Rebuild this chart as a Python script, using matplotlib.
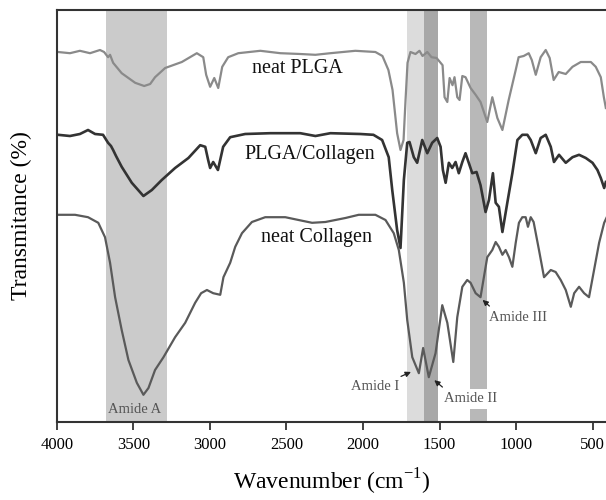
import numpy as np
import matplotlib
matplotlib.use('Agg')
import matplotlib.pyplot as plt

plt.rcParams['font.family'] = ['Liberation Serif', 'DejaVu Serif']

# FTIR spectra (wavenumber in cm-1, transmittance in arbitrary units)
plga_wn = [3993, 3915, 3850, 3784, 3719, 3692, 3666, 3653, 3633, 3577, 3489, 3430, 3391, 3359, 3293,
           3184, 3086, 3044, 3025, 2999, 2972, 2946, 2920, 2881, 2815, 2671, 2540, 2410, 2311, 2213,
           2050, 1919, 1873, 1834, 1807, 1777, 1755, 1735, 1722, 1709, 1690, 1657, 1631, 1611, 1580,
           1552, 1519, 1493, 1480, 1467, 1449, 1434, 1415, 1402, 1384, 1369, 1351, 1330, 1297, 1264,
           1232, 1188, 1155, 1122, 1089, 1048, 1002, 983, 950, 917, 897, 871, 839, 806, 780,
           754, 721, 675, 631, 577, 511, 479, 446, 426, 413]
plga_t = [92.5, 92.2, 92.8, 92.2, 93.0, 92.5, 91.2, 91.8, 89.8, 87.2, 84.8, 84.0, 84.5, 86.2, 88.5,
          90.0, 92.2, 91.2, 86.8, 83.8, 86.0, 83.5, 88.8, 91.2, 92.2, 92.8, 92.2, 92.0, 91.8, 92.2,
          92.8, 92.5, 91.5, 88.0, 83.0, 72.2, 68.0, 70.5, 80.5, 89.8, 92.5, 92.0, 92.8, 91.5, 92.5,
          91.2, 91.0, 89.8, 89.2, 81.2, 80.0, 86.0, 84.2, 86.2, 81.2, 80.5, 86.5, 86.2, 83.5, 81.8,
          80.0, 75.0, 81.2, 76.0, 73.0, 80.5, 88.0, 91.2, 91.5, 92.2, 90.5, 86.8, 91.2, 93.0, 91.0,
          85.5, 87.5, 87.0, 88.8, 90.0, 90.0, 88.8, 86.2, 81.2, 78.5]

blend_wn = [3993, 3915, 3850, 3797, 3751, 3699, 3666, 3647, 3633, 3614, 3577, 3511, 3435, 3380, 3315,
            3228, 3141, 3064, 3031, 3012, 2999, 2979, 2948, 2914, 2868, 2770, 2606, 2410, 2311, 2213,
            2017, 1932, 1875, 1832, 1809, 1777, 1755, 1733, 1711, 1696, 1668, 1646, 1613, 1580, 1548,
            1515, 1493, 1478, 1460, 1439, 1417, 1395, 1374, 1351, 1330, 1286, 1258, 1232, 1199, 1177,
            1151, 1133, 1112, 1089, 1057, 1024, 991, 959, 926, 904, 871, 839, 806, 773, 752,
            719, 675, 631, 588, 544, 500, 468, 446, 424, 413]
blend_t = [71.8, 71.5, 72.0, 73.0, 72.0, 71.8, 69.8, 69.0, 68.0, 66.5, 63.8, 59.8, 56.5, 58.0, 60.5,
           63.5, 66.0, 69.2, 68.8, 65.5, 63.5, 65.0, 63.0, 68.8, 71.2, 72.0, 72.2, 72.2, 71.5, 72.2,
           72.0, 71.8, 70.5, 66.2, 58.0, 48.0, 43.5, 60.5, 69.8, 70.0, 66.2, 64.8, 70.5, 67.2, 69.8,
           71.0, 68.8, 63.0, 59.8, 64.8, 63.5, 65.0, 62.2, 65.0, 67.2, 62.2, 62.5, 59.2, 52.5, 55.5,
           62.2, 54.8, 53.8, 47.5, 54.8, 62.2, 70.5, 71.8, 71.8, 70.5, 67.2, 71.0, 71.8, 68.8, 65.0,
           66.8, 64.8, 66.2, 66.8, 66.0, 64.8, 63.0, 61.0, 58.5, 60.0]

coll_wn = [3993, 3882, 3797, 3730, 3686, 3653, 3620, 3577, 3533, 3478, 3435, 3402, 3359, 3304, 3228,
           3162, 3097, 3058, 3020, 2979, 2933, 2912, 2868, 2835, 2791, 2726, 2639, 2508, 2421, 2333,
           2246, 2115, 2028, 1919, 1853, 1799, 1766, 1733, 1711, 1678, 1635, 1607, 1570, 1526, 1482,
           1449, 1410, 1384, 1351, 1319, 1297, 1264, 1232, 1210, 1188, 1155, 1133, 1112, 1089, 1068,
           1046, 1024, 1002, 981, 959, 937, 922, 904, 885, 850, 817, 773, 741, 708, 675,
           642, 620, 588, 555, 523, 490, 457, 424, 407]
coll_t = [51.8, 51.8, 51.2, 49.8, 46.2, 39.8, 31.2, 23.0, 15.5, 9.8, 6.8, 8.5, 13.0, 16.2, 21.2,
          24.8, 29.8, 32.2, 33.0, 32.2, 31.8, 36.2, 39.8, 43.8, 47.2, 50.0, 51.2, 51.2, 50.5, 49.8,
          50.0, 51.0, 51.8, 51.8, 50.5, 47.2, 43.0, 34.8, 25.5, 16.2, 12.2, 18.5, 11.2, 17.2, 29.2,
          24.8, 15.0, 26.2, 33.8, 35.5, 34.8, 32.2, 31.2, 36.2, 41.2, 43.0, 45.0, 43.8, 41.8, 43.0,
          41.2, 38.8, 44.8, 49.8, 51.2, 51.2, 48.8, 51.2, 50.0, 43.0, 36.2, 38.0, 37.5, 35.5, 33.0,
          28.8, 32.2, 33.8, 32.2, 31.2, 38.0, 44.8, 49.8, 51.2]

# highlighted bands (start, end) in cm-1
band_ranges = [(3680, 3280), (1710, 1600), (1600, 1510), (1300, 1190)]
band_colors = ['#cbcbcb', '#dcdcdc', '#a8a8a8', '#b8b8b8']

curve_labels = ['neat PLGA', 'PLGA/Collagen', 'neat Collagen']
xticks = [4000, 3500, 3000, 2500, 2000, 1500, 1000, 500]

fig = plt.figure(figsize=(6.06, 5.0), dpi=100)
ax = fig.add_axes([0.094, 0.156, 0.906, 0.824])

for (a, b), c in zip(band_ranges, band_colors):
    ax.axvspan(b, a, color=c, lw=0, zorder=0)

ax.plot(plga_wn, plga_t, color='#8a8a8a', lw=1.6, zorder=2)
ax.plot(blend_wn, blend_t, color='#333333', lw=1.9, zorder=2)
ax.plot(coll_wn, coll_t, color='#5a5a5a', lw=1.6, zorder=2)

ax.text(2432, 88.4, curve_labels[0], fontsize=14.5, ha='center', va='center', color='#111111')
ax.text(2347, 66.8, curve_labels[1], fontsize=14.5, ha='center', va='center', color='#111111')
ax.text(2302, 46.2, curve_labels[2], fontsize=14.5, ha='center', va='center', color='#111111')

ax.text(3490, 3.2, 'Amide A', fontsize=10.5, ha='center', va='center', color='#555555')
arrow = dict(arrowstyle='-|>', color='#222222', lw=0.9, mutation_scale=8)
ax.annotate('Amide I', xy=(1670, 12.8), xytext=(1919, 8.8), fontsize=10.5, ha='center', va='center',
            color='#555555', arrowprops=dict(arrow, relpos=(0.85, 1.0)))
ax.annotate('Amide II', xy=(1548, 10.9), xytext=(1300, 5.75), fontsize=10.5, ha='center', va='center',
            color='#555555', bbox=dict(boxstyle='square,pad=0.25', fc='white', ec='none'),
            arrowprops=dict(arrow, relpos=(0.1, 1.0)))
ax.annotate('Amide III', xy=(1232, 31.0), xytext=(989, 26.2), fontsize=10.5, ha='center', va='center',
            color='#555555', arrowprops=dict(arrow, relpos=(0.1, 1.0)))

ax.set_xlim(4000, 412)
ax.set_ylim(0, 103)
ax.set_xticks(xticks)
ax.set_yticks([])
ax.tick_params(axis='x', direction='out', length=6, width=1.3, labelsize=12, pad=5, color='#333333')
for side in ['top', 'left', 'bottom']:
    ax.spines[side].set_linewidth(1.5)
    ax.spines[side].set_color('#333333')
ax.spines['right'].set_visible(False)

ax.set_xlabel('Wavenumber (cm$^{\\mathregular{-1}}$)', fontsize=17, labelpad=10)
ax.set_ylabel('Transmitance (%)', fontsize=17, labelpad=18)

fig.savefig('out.png', dpi=100)
